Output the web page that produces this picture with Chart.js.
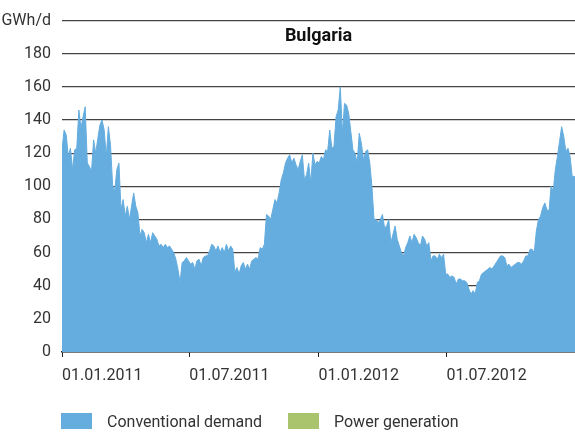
<!DOCTYPE html>
<html>
<head>
<meta charset="utf-8">
<title>Bulgaria</title>
<script src="https://cdn.jsdelivr.net/npm/chart.js@4.4.0/dist/chart.umd.min.js"></script>
<style>
  body { margin: 0; background: #fff; }
  #wrap { position: relative; width: 575px; height: 435px; }
  #legend { position: absolute; top: 413px; left: 61px; font: 16px Roboto, sans-serif; color: #333; }
  .item { position: absolute; top: 0; white-space: nowrap; }
  .box { position: absolute; top: 0; width: 31px; height: 16px; }
  .label { position: absolute; top: -1px; line-height: 19px; }
</style>
</head>
<body>
<div id="wrap">
  <canvas id="myChart" width="575" height="435"></canvas>
  <div id="legend"></div>
</div>
<script>
// daily demand, read every 3 days starting 01.01.2011 (GWh/d)
var stepDays = 3;
var demandH1_2011 = [122, 134, 131, 118, 123, 110, 122, 123, 146, 135,
                     142, 148, 114, 112, 109, 128, 120, 129, 137, 140,
                     134, 118, 136, 125, 101, 97, 110, 114, 86, 92,
                     82, 88, 80, 88, 96, 88, 84, 70, 74, 72,
                     66, 71, 66, 72, 70, 68, 64, 65, 63, 65,
                     63, 64, 62, 60, 56, 50, 42, 54, 55, 57,
                     55];
var demandH2_2011 = [53, 54, 50, 55, 56, 52, 57, 58, 58, 61, 65,
                     64, 61, 64, 60, 63, 60, 65, 61, 64, 62,
                     48, 51, 47, 52, 54, 50, 53, 50, 55, 56,
                     57, 56, 63, 62, 65, 83, 82, 80, 86, 92,
                     90, 96, 104, 108, 114, 117, 119, 114, 117, 113,
                     110, 115, 119, 104, 107, 114, 102, 120, 113, 115];
var demandH1_2012 = [114, 118, 116, 122, 121, 134, 123, 124, 142, 146,
                     160, 132, 150, 149, 144, 133, 122, 120, 114, 132,
                     126, 116, 121, 122, 114, 100, 80, 80, 78, 80,
                     83, 75, 76, 80, 66, 71, 76, 68, 64, 60,
                     58, 63, 66, 70, 66, 71, 69, 66, 64, 70,
                     68, 64, 66, 55, 58, 58, 56, 59, 57, 59,
                     47];
var demandH2_2012 = [47, 45, 46, 45, 41, 44, 44, 43, 43, 42,
                     38, 35, 37, 35, 42, 43, 47, 48, 49, 50,
                     51, 50, 52, 54, 56, 58, 58, 57, 52, 53,
                     51, 52, 53, 54, 54, 53, 55, 58, 58, 62,
                     62, 60, 73, 80, 82, 87, 90, 86, 85, 100,
                     97, 110, 118, 127, 136, 130, 121, 123, 118, 106,
                     106, 105];

var tickDays = [0, 181, 365, 547];
var tickLabels = ['01.01.2011', '01.07.2011', '01.01.2012', '01.07.2012'];
var lastDay = 730;

var seriesNames = ['Conventional demand', 'Power generation'];
var seriesColors = ['#65ADDF', '#A9C46C'];

var demand = demandH1_2011.concat(demandH2_2011, demandH1_2012, demandH2_2012);
var demandPoints = demand.map(function(v, i){ return {x: i * stepDays, y: v}; });

var font = 'Roboto, sans-serif';

// title sits inside the plot, between the top two grid lines
var titlePlugin = {
    id: 'insideTitle',
    afterDraw: function(chart){
        var ctx = chart.ctx;
        var a = chart.chartArea;
        ctx.save();
        ctx.font = 'bold 18px ' + font;
        ctx.fillStyle = '#111';
        ctx.textAlign = 'center';
        ctx.textBaseline = 'middle';
        ctx.fillText('Bulgaria', (a.left + a.right) / 2, 36);
        ctx.restore();
    }
};

var ctx = document.getElementById('myChart').getContext('2d');
var chart = new Chart(ctx, {
    type: 'line',
    data: {
        datasets: [{
            label: seriesNames[0],
            data: demandPoints,
            backgroundColor: seriesColors[0],
            borderColor: seriesColors[0],
            borderWidth: 1,
            pointRadius: 0,
            fill: 'origin',
            tension: 0
        }, {
            label: seriesNames[1],
            data: [],
            backgroundColor: seriesColors[1],
            borderColor: seriesColors[1],
            pointRadius: 0
        }]
    },
    options: {
        responsive: false,
        animation: false,
        events: [],
        layout: { padding: { top: 20, right: 0, bottom: 0, left: 0 } },
        plugins: {
            legend: { display: false },
            tooltip: { enabled: false }
        },
        scales: {
            x: {
                type: 'linear',
                min: 0,
                max: lastDay,
                afterBuildTicks: function(scale){
                    scale.ticks = tickDays.map(function(d){ return {value: d}; });
                },
                afterFit: function(scale){ scale.height = 83; },
                ticks: {
                    autoSkip: false,
                    maxRotation: 0,
                    align: 'start',
                    padding: 9,
                    color: '#333',
                    font: { family: font, size: 16 },
                    callback: function(v){ return tickLabels[tickDays.indexOf(v)]; }
                },
                grid: { drawOnChartArea: false, tickLength: 5, tickColor: '#222' },
                border: { color: '#222', width: 1.5 }
            },
            y: {
                min: 0,
                max: 200,
                afterFit: function(scale){ scale.width = 62; },
                ticks: {
                    stepSize: 20,
                    padding: 11,
                    color: '#333',
                    font: { family: font, size: 16 },
                    callback: function(v){ return v === 200 ? 'GWh/d' : v; }
                },
                grid: { color: '#444', lineWidth: 1.3, drawTicks: false },
                border: { display: false }
            }
        }
    },
    plugins: [titlePlugin]
});

// legend as plain html, placed below the axis labels
var legendEl = document.getElementById('legend');
var offsets = [0, 227];
seriesNames.forEach(function(name, i){
    var item = document.createElement('div');
    item.className = 'item';
    item.style.left = offsets[i] + 'px';
    item.innerHTML = '<div class="box" style="background:' + seriesColors[i] + '"></div>' +
                     '<div class="label" style="left:46px">' + name + '</div>';
    legendEl.appendChild(item);
});
</script>
</body>
</html>
